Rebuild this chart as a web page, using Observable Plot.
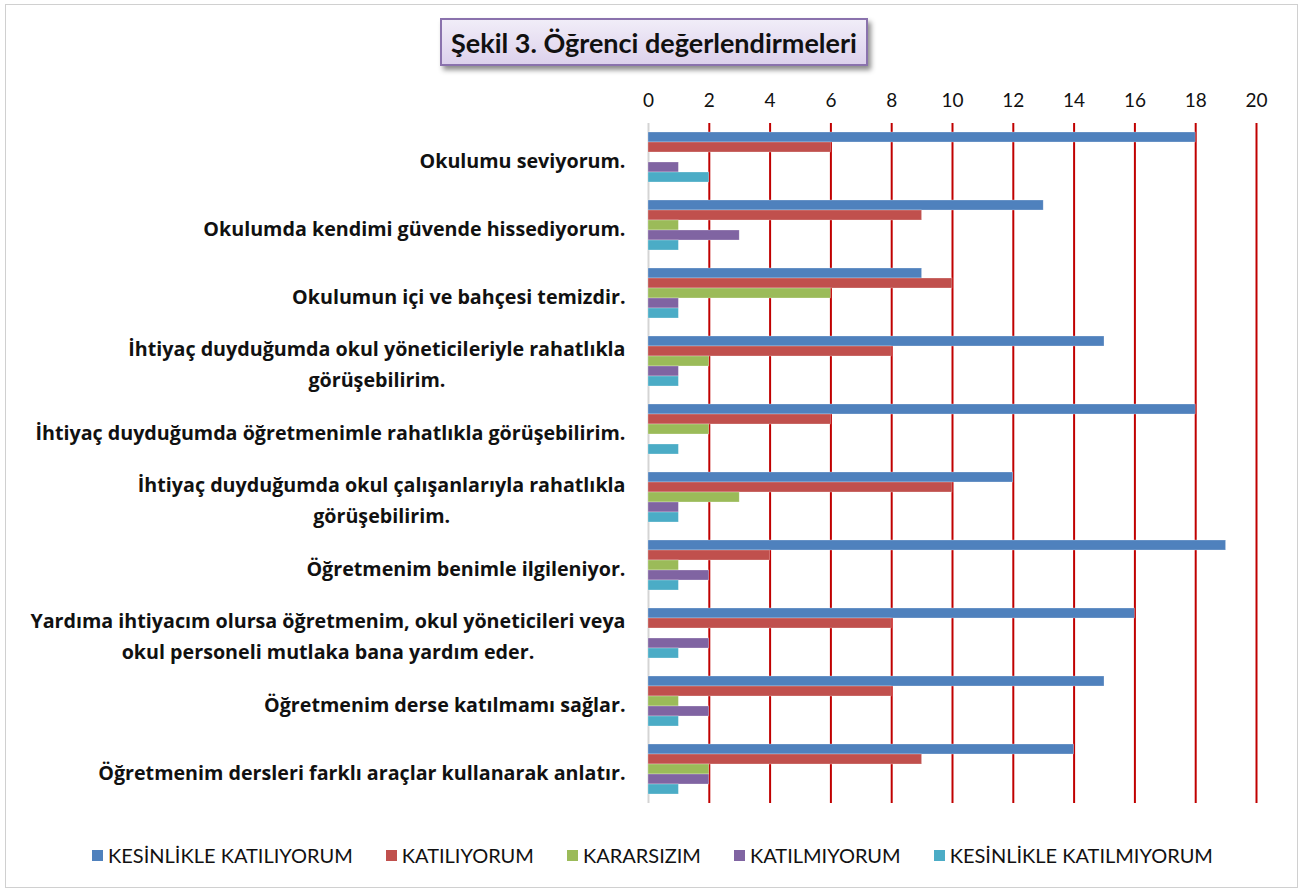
<!DOCTYPE html>
<html>
<head>
<meta charset="utf-8">
<script src="https://cdn.jsdelivr.net/npm/d3@7"></script>
<script src="https://cdn.jsdelivr.net/npm/@observablehq/plot@0.6"></script>
<style>
  html, body { margin: 0; padding: 0; background: #fff; }
  body { width: 1305px; height: 894px; position: relative; overflow: hidden; font-family: Lato, "Open Sans", sans-serif; }
  #frame { position: absolute; left: 5px; top: 4px; width: 1293px; height: 884px; border: 1px solid #d0d0d0; box-sizing: border-box; }
  #chart { position: absolute; left: 0; top: 0; }
  #title { position: absolute; left: 440px; top: 18px; width: 428px; height: 48px; box-sizing: border-box;
    border: 2px solid #8a72ad; background: linear-gradient(#f1edf8, #dcd1ec);
    box-shadow: 3px 4px 5px rgba(0,0,0,0.45); font-weight: bold; font-size: 27px; color: #111;
    display: flex; align-items: center; justify-content: center; z-index: 2; }
  #legend { position: absolute; left: 0; top: 843px; width: 1305px; display: flex; justify-content: center; gap: 33px;
    font-size: 20px; color: #111; }
  #legend .item { display: flex; align-items: center; gap: 5px; }
  #legend .sw { width: 11px; height: 11px; display: inline-block; }
</style>
</head>
<body>
<div id="frame"></div>
<div id="chart"></div>
<div id="title">Şekil 3. Öğrenci değerlendirmeleri</div>
<div id="legend"></div>
<script>
const categories = [
  "Okulumu seviyorum.",
  "Okulumda kendimi güvende hissediyorum.",
  "Okulumun içi ve bahçesi temizdir.",
  "İhtiyaç duyduğumda okul yöneticileriyle rahatlıkla\ngörüşebilirim.",
  "İhtiyaç duyduğumda öğretmenimle rahatlıkla görüşebilirim.",
  "İhtiyaç duyduğumda okul çalışanlarıyla rahatlıkla\ngörüşebilirim.",
  "Öğretmenim benimle ilgileniyor.",
  "Yardıma ihtiyacım olursa öğretmenim, okul yöneticileri veya\nokul personeli mutlaka bana yardım eder.",
  "Öğretmenim derse katılmamı sağlar.",
  "Öğretmenim dersleri farklı araçlar kullanarak anlatır."
];
const seriesNames = ["KESİNLİKLE KATILIYORUM", "KATILIYORUM", "KARARSIZIM", "KATILMIYORUM", "KESİNLİKLE KATILMIYORUM"];
const seriesColors = ["#4f81bd", "#c0504d", "#9bbb59", "#8064a2", "#4bacc6"];
const kesinlikleKatiliyorum = [18, 13, 9, 15, 18, 12, 19, 16, 15, 14];
const katiliyorum = [6, 9, 10, 8, 6, 10, 4, 8, 8, 9];
const kararsizim = [0, 1, 6, 2, 2, 3, 1, 0, 1, 2];
const katilmiyorum = [1, 3, 1, 1, 0, 1, 2, 2, 2, 2];
const kesinlikleKatilmiyorum = [2, 1, 1, 1, 1, 1, 1, 1, 1, 1];
const xTicks = [0, 2, 4, 6, 8, 10, 12, 14, 16, 18, 20];
const gridTicks = [2, 4, 6, 8, 10, 12, 14, 16, 18, 20];

const seriesValues = [kesinlikleKatiliyorum, katiliyorum, kararsizim, katilmiyorum, kesinlikleKatilmiyorum];
const rows = [];
categories.forEach((c, i) => {
  seriesNames.forEach((s, j) => rows.push({category: c, series: s, value: seriesValues[j][i]}));
});

const halfGap = 9;
const plot = Plot.plot({
  width: 1305,
  height: 830,
  marginLeft: 648,
  marginRight: 49,
  marginTop: 122,
  marginBottom: 25,
  style: {fontFamily: "Lato, 'Open Sans', sans-serif", background: "transparent", color: "#111"},
  x: {domain: [0, 20], axis: null},
  y: {domain: seriesNames, axis: null, padding: 0},
  fy: {domain: categories, paddingInner: 0.26, paddingOuter: 0.13, axis: null},
  color: {domain: seriesNames, range: seriesColors},
  marks: [
    Plot.ruleX(gridTicks, {stroke: "#c00000", strokeWidth: 2, insetTop: -halfGap, insetBottom: -halfGap}),
    Plot.ruleX([0], {stroke: "#d4d4d4", strokeWidth: 2, insetTop: -halfGap, insetBottom: -halfGap}),
    Plot.barX(rows, {x: "value", y: "series", fy: "category", fill: "series", stroke: "#ffffff", strokeOpacity: 0.45, strokeWidth: 0.6}),
    Plot.axisX({anchor: "top", ticks: xTicks, tickSize: 0, tickPadding: 26, fontSize: 19, label: null, tickFormat: d => String(d)}),
    Plot.axisFy({anchor: "left", tickSize: 0, tickPadding: 23, fontSize: 19.7, fontWeight: "bold", fontFamily: "'Open Sans', Lato, sans-serif", lineHeight: 1.6, label: null})
  ]
});
document.getElementById("chart").appendChild(plot);

// center the lines of multi-line category labels within their right-aligned block
plot.querySelectorAll("text").forEach(t => {
  const spans = t.querySelectorAll("tspan");
  if (spans.length > 1) {
    let maxW = 0;
    spans.forEach(s => { maxW = Math.max(maxW, s.getComputedTextLength()); });
    t.setAttribute("text-anchor", "middle");
    spans.forEach(s => s.setAttribute("x", -maxW / 2));
  }
});

const legend = document.getElementById("legend");
seriesNames.forEach((s, j) => {
  const item = document.createElement("div");
  item.className = "item";
  const sw = document.createElement("span");
  sw.className = "sw";
  sw.style.background = seriesColors[j];
  const lbl = document.createElement("span");
  lbl.textContent = s;
  item.appendChild(sw);
  item.appendChild(lbl);
  legend.appendChild(item);
});
</script>
</body>
</html>
